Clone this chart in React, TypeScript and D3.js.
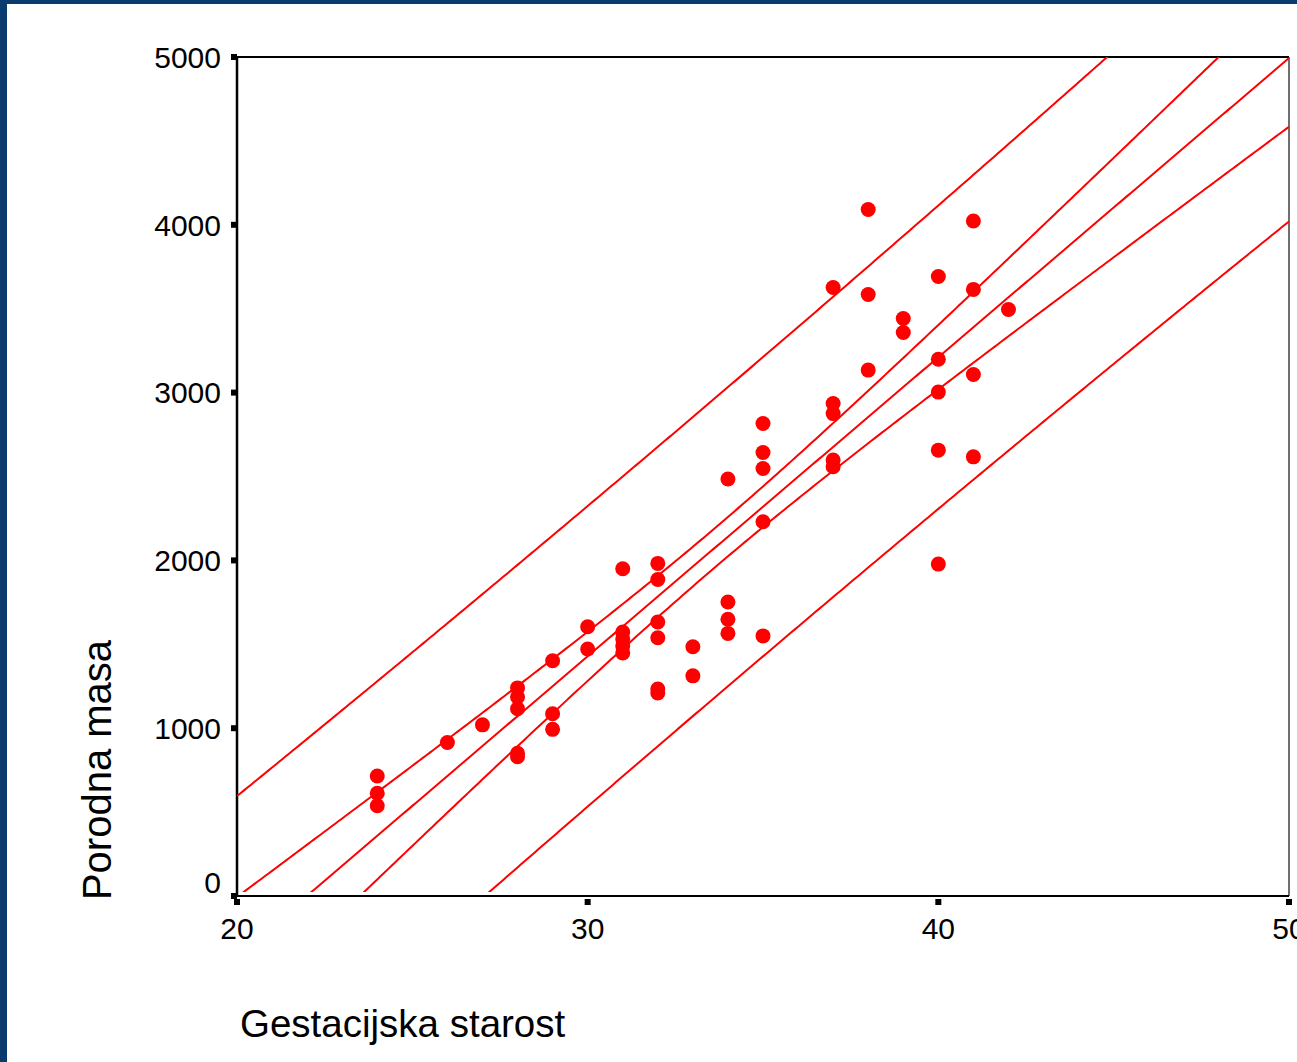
import React from "react";
import * as d3 from "d3";

// gestational age (weeks) and birth weights (g) observed at each week
const weeks = [24, 26, 27, 28, 29, 30, 31, 32, 33, 34, 35, 37, 38, 39, 40, 41, 42];
const weightsByWeek = [
  [715, 612, 538],
  [915],
  [1020],
  [1240, 1186, 1116, 850, 830],
  [1402, 1086, 993],
  [1605, 1472],
  [1950, 1573, 1531, 1490, 1448],
  [1982, 1886, 1633, 1539, 1233, 1210],
  [1485, 1312],
  [2485, 1752, 1649, 1565],
  [2816, 2643, 2548, 2230, 1550],
  [3626, 2935, 2875, 2598, 2558],
  [4091, 3585, 3134],
  [3442, 3358],
  [3692, 3199, 3003, 2657, 1978],
  [4023, 3615, 3108, 2617],
  [3495],
];

const xTicks = [20, 30, 40, 50];
const yTicks = [0, 1000, 2000, 3000, 4000, 5000];
const xTitle = "Gestacijska starost";
const yTitle = "Porodna masa";

const T_CRIT = 2.004; // t(0.975, df=55)

const font = "'Liberation Sans', Arial, sans-serif";
const red = "#ff0000";

export default function App() {
  const width = 1297;
  const height = 1062;
  const left = 237;
  const right = 1289;
  const top = 57;
  const bottom = 896;

  const points = weeks.flatMap((w, i) => weightsByWeek[i].map((v) => ({ x: w, y: v })));

  const x = d3.scaleLinear().domain([20, 50]).range([left, right]);
  const y = d3.scaleLinear().domain([0, 5000]).range([bottom, top]);

  // linear regression with mean and individual 95% bands
  const n = points.length;
  const mx = d3.mean(points, (d) => d.x)!;
  const my = d3.mean(points, (d) => d.y)!;
  const sxx = d3.sum(points, (d) => (d.x - mx) ** 2);
  const sxy = d3.sum(points, (d) => (d.x - mx) * (d.y - my));
  const b = sxy / sxx;
  const a = my - b * mx;
  const sse = d3.sum(points, (d) => (d.y - (a + b * d.x)) ** 2);
  const s = Math.sqrt(sse / (n - 2));

  const grid = d3.range(20, 50.001, 0.1);
  const fit = (g: number) => a + b * g;
  const seMean = (g: number) => s * Math.sqrt(1 / n + (g - mx) ** 2 / sxx);
  const seInd = (g: number) => s * Math.sqrt(1 + 1 / n + (g - mx) ** 2 / sxx);

  const curves = [
    (g: number) => fit(g) + T_CRIT * seInd(g),
    (g: number) => fit(g) + T_CRIT * seMean(g),
    (g: number) => fit(g),
    (g: number) => fit(g) - T_CRIT * seMean(g),
    (g: number) => fit(g) - T_CRIT * seInd(g),
  ];

  const line = d3.line<number>().x((g) => x(g));

  return (
    <svg
      width={width}
      height={height}
      style={{ position: "absolute", left: 0, top: 0, background: "#fff", overflow: "hidden" }}
    >
      <defs>
        <clipPath id="plotClip">
          <rect x={left} y={top} width={right - left} height={bottom - top - 4} />
        </clipPath>
      </defs>

      {/* frame */}
      <rect x={0} y={0} width={width} height={4} fill="#0b3a6e" />
      <rect x={0} y={0} width={7} height={height} fill="#0b3a6e" />

      {/* plot box */}
      <line x1={left} y1={top} x2={right} y2={top} stroke="#000" strokeWidth={2} />
      <line x1={right} y1={top} x2={right} y2={bottom} stroke="#222" strokeWidth={1.3} />
      <line x1={left} y1={top - 1} x2={left} y2={bottom + 1} stroke="#000" strokeWidth={2.5} />
      <line x1={left - 1} y1={bottom} x2={right} y2={bottom} stroke="#000" strokeWidth={2.2} />

      {/* regression lines */}
      <g clipPath="url(#plotClip)">
        {curves.map((f, i) => (
          <path
            key={i}
            d={line.y((g) => y(f(g)))(grid) ?? ""}
            fill="none"
            stroke={red}
            strokeWidth={2}
          />
        ))}
      </g>

      {/* points */}
      {points.map((d, i) => (
        <circle key={i} cx={x(d.x)} cy={y(d.y)} r={7.5} fill={red} />
      ))}

      {/* y axis ticks */}
      {yTicks.map((t) => (
        <g key={t}>
          <rect x={left - 6} y={y(t) - 3} width={6} height={6} fill="#000" />
          <text
            x={left - 16}
            y={t === 0 ? y(t) - 14 : y(t)}
            dy="0.36em"
            textAnchor="end"
            fontFamily={font}
            fontSize={30}
            fill="#000"
          >
            {t}
          </text>
        </g>
      ))}

      {/* x axis ticks */}
      {xTicks.map((t) => (
        <g key={t}>
          <rect x={x(t) - 3} y={bottom + 3} width={6} height={6} fill="#000" />
          <text
            x={x(t)}
            y={939}
            textAnchor="middle"
            fontFamily={font}
            fontSize={30}
            fill="#000"
          >
            {t}
          </text>
        </g>
      ))}

      <text x={240} y={1037} fontFamily={font} fontSize={38.5} fill="#000">
        {xTitle}
      </text>
      <text
        transform={`translate(111, 770) rotate(-90)`}
        textAnchor="middle"
        fontFamily={font}
        fontSize={40}
        fill="#000"
      >
        {yTitle}
      </text>
    </svg>
  );
}
